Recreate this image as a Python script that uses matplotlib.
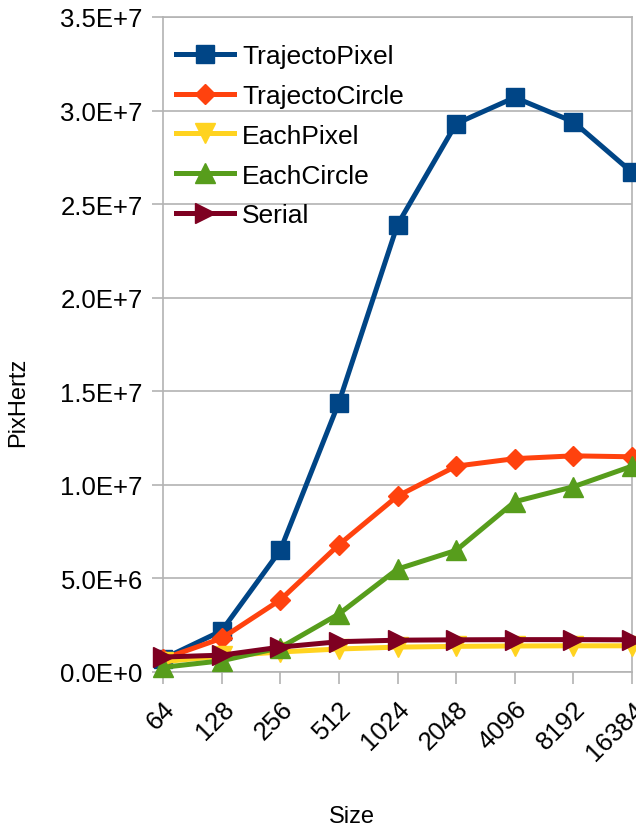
import numpy as np
import matplotlib
matplotlib.use('Agg')
import matplotlib.pyplot as plt
from matplotlib.ticker import FuncFormatter, MultipleLocator

# Datos
sizes = ['64', '128', '256', '512', '1024', '2048', '4096', '8192', '16384']
trajecto_pixel = [0.7e6, 2.2e6, 6.5e6, 14.4e6, 23.9e6, 29.3e6, 30.7e6, 29.4e6, 26.7e6]
trajecto_circle = [0.7e6, 1.8e6, 3.85e6, 6.8e6, 9.4e6, 11.0e6, 11.4e6, 11.55e6, 11.5e6]
each_pixel = [0.55e6, 0.85e6, 1.07e6, 1.23e6, 1.33e6, 1.37e6, 1.39e6, 1.40e6, 1.40e6]
each_circle = [0.25e6, 0.6e6, 1.3e6, 3.1e6, 5.5e6, 6.5e6, 9.1e6, 9.9e6, 11.0e6]
serial = [0.8e6, 0.9e6, 1.33e6, 1.62e6, 1.70e6, 1.72e6, 1.73e6, 1.73e6, 1.72e6]

plt.rcParams['font.family'] = ['Liberation Sans', 'DejaVu Sans']

fig = plt.figure(figsize=(6.36, 8.29), dpi=100)
ax = fig.add_axes([163/636, 1-673/829, (632-163)/636, (673-18)/829])

x = np.arange(len(sizes))
series = [
    (trajecto_pixel, 'TrajectoPixel', '#004586', 's', 13.5),
    (trajecto_circle, 'TrajectoCircle', '#ff420e', 'D', 10.5),
    (each_pixel, 'EachPixel', '#ffd320', 'v', 14),
    (each_circle, 'EachCircle', '#579d1c', '^', 14),
    (serial, 'Serial', '#7e0021', '>', 14),
]
for vals, name, col, mk, ms in series:
    ax.plot(x, vals, color=col, lw=3.6, marker=mk, markersize=ms, label=name,
            clip_on=False, zorder=3)

ax.set_xlim(0, len(sizes) - 1)
ax.set_ylim(0, 3.5e7)
ax.yaxis.set_major_locator(MultipleLocator(5e6))

def fmt_e(v, pos):
    m, e = f'{v:.1E}'.split('E')
    return f'{m}E{int(e):+d}'

ax.yaxis.set_major_formatter(FuncFormatter(fmt_e))
ax.set_xticks(x)
ax.set_xticklabels(sizes, rotation=45, ha='right', va='top', rotation_mode='anchor')

gris = '#b3b3b3'
ax.grid(axis='y', color=gris, lw=1.2)
ax.set_axisbelow(True)
for s in ax.spines.values():
    s.set_color(gris)
    s.set_linewidth(1.2)
ax.tick_params(axis='y', length=8, width=1.2, color=gris, pad=6.5, labelsize=18.5)
ax.tick_params(axis='x', length=8.6, width=1.2, color=gris, pad=9, labelsize=18.5)

ax.set_ylabel('PixHertz', fontsize=17, va='center')
ax.yaxis.set_label_coords(18/636, 1-402/829, transform=fig.transFigure)
ax.set_xlabel('Size', fontsize=17, va='center')
ax.xaxis.set_label_coords(352/636, 1-817/829, transform=fig.transFigure)

ax.legend(loc='upper left', bbox_to_anchor=(176/636, 1-45/829),
          bbox_transform=fig.transFigure, frameon=False, fontsize=19,
          borderpad=0, borderaxespad=0, handlelength=2.2, handletextpad=0.3,
          labelspacing=0.6)

fig.savefig('out.png', dpi=100)
